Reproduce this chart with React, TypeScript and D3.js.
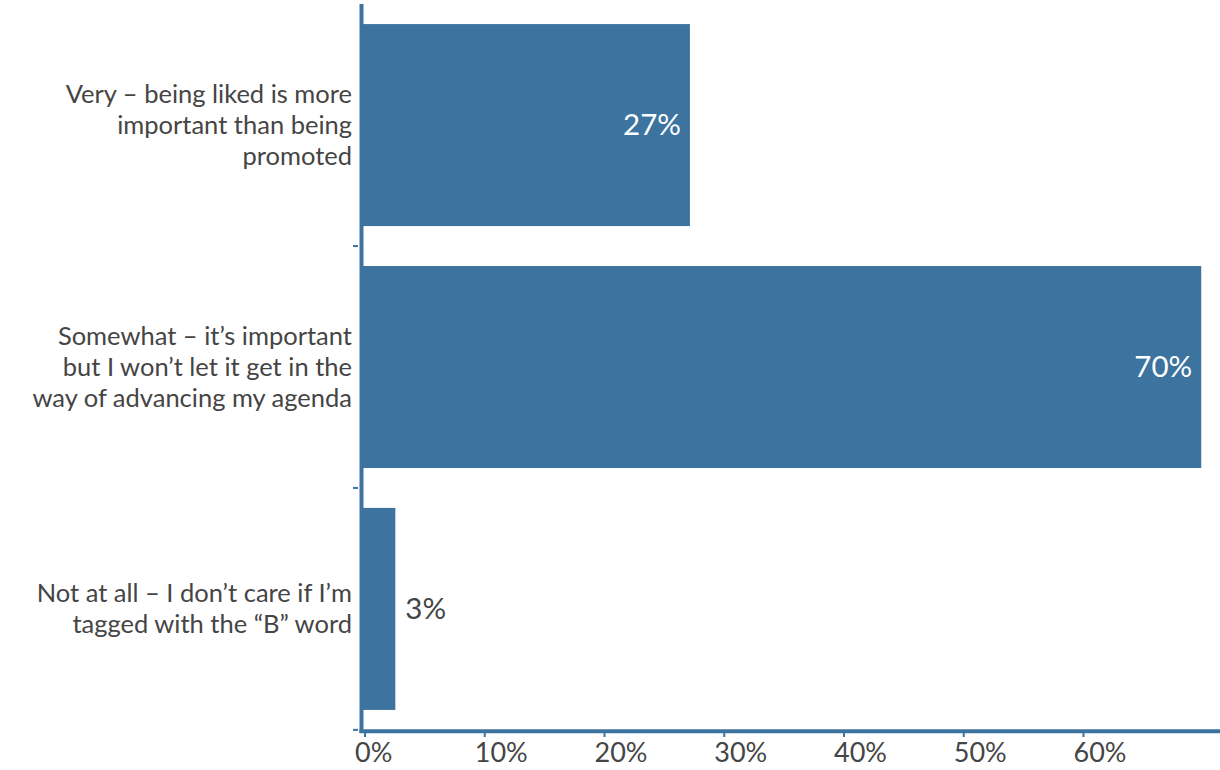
import React from "react";
import * as d3 from "d3";

const categories: string[][] = [
  ["Very – being liked is more", "important than being", "promoted"],
  ["Somewhat – it’s important", "but I won’t let it get in the", "way of advancing my agenda"],
  ["Not at all – I don’t care if I’m", "tagged with the “B” word"],
];
const values: number[] = [27.3, 70.0, 2.7];
const valueLabels: string[] = ["27%", "70%", "3%"];
const xTicks: number[] = [0, 10, 20, 30, 40, 50, 60];
const xMax = 71.4;

const W = 1220;
const H = 770;
const BLUE = "#3c739f";
const TEXT = "#454545";
const FONT = "Lato, 'Source Sans Pro', sans-serif";

export default function App() {
  const x = d3.scaleLinear().domain([0, xMax]).range([363, 1218]);
  const y = d3
    .scaleBand<number>()
    .domain(d3.range(categories.length))
    .range([4, 730])
    .paddingInner(0.165)
    .paddingOuter(0.083);
  const step = y.step();
  const bw = y.bandwidth();
  const yTickPos = d3.range(categories.length).map(
    (i) => (y(i) as number) + bw + (y.paddingInner() * step) / 2
  );
  const lineH = 30.8;

  return (
    <svg
      width={W}
      height={H}
      style={{ position: "absolute", left: 0, top: 0, background: "#fff" }}
      fontFamily={FONT}
    >
      {values.map((v, i) => {
        const y0 = y(i) as number;
        return (
          <rect key={i} x={x(0)} y={y0} width={x(v) - x(0)} height={bw} fill={BLUE} />
        );
      })}
      {values.map((v, i) => {
        const y0 = (y(i) as number) + bw / 2;
        const inside = x(v) - x(0) > 80;
        return (
          <text
            key={"v" + i}
            x={inside ? x(v) - 9 : x(v) + 10}
            y={y0}
            dy="0.35em"
            textAnchor={inside ? "end" : "start"}
            fill={inside ? "#ffffff" : TEXT}
            fontSize={29.5}
          >
            {valueLabels[i]}
          </text>
        );
      })}
      {categories.map((lines, i) => {
        const cy = (y(i) as number) + bw / 2;
        const start = cy - ((lines.length - 1) * lineH) / 2;
        return (
          <text key={"c" + i} x={352} textAnchor="end" fill={TEXT} fontSize={25.5}>
            {lines.map((l, j) => (
              <tspan key={j} x={352} y={start + j * lineH} dy="0.35em">
                {l}
              </tspan>
            ))}
          </text>
        );
      })}
      {/* y axis */}
      <line x1={361.5} x2={361.5} y1={4} y2={733} stroke={BLUE} strokeWidth={4} />
      {yTickPos.map((p, i) => (
        <line key={"yt" + i} x1={353} x2={358} y1={p} y2={p} stroke={BLUE} strokeWidth={2} />
      ))}
      {/* x axis */}
      <line x1={359.5} x2={1220} y1={731.3} y2={731.3} stroke={BLUE} strokeWidth={4} />
      {xTicks.map((t) => (
        <g key={"xt" + t}>
          <line x1={x(t) + 2} x2={x(t) + 2} y1={733} y2={737} stroke={BLUE} strokeWidth={2} />
          <text x={x(t) - 8} y={762} textAnchor="start" fill={TEXT} fontSize={27}>
            {t + "%"}
          </text>
        </g>
      ))}
    </svg>
  );
}
